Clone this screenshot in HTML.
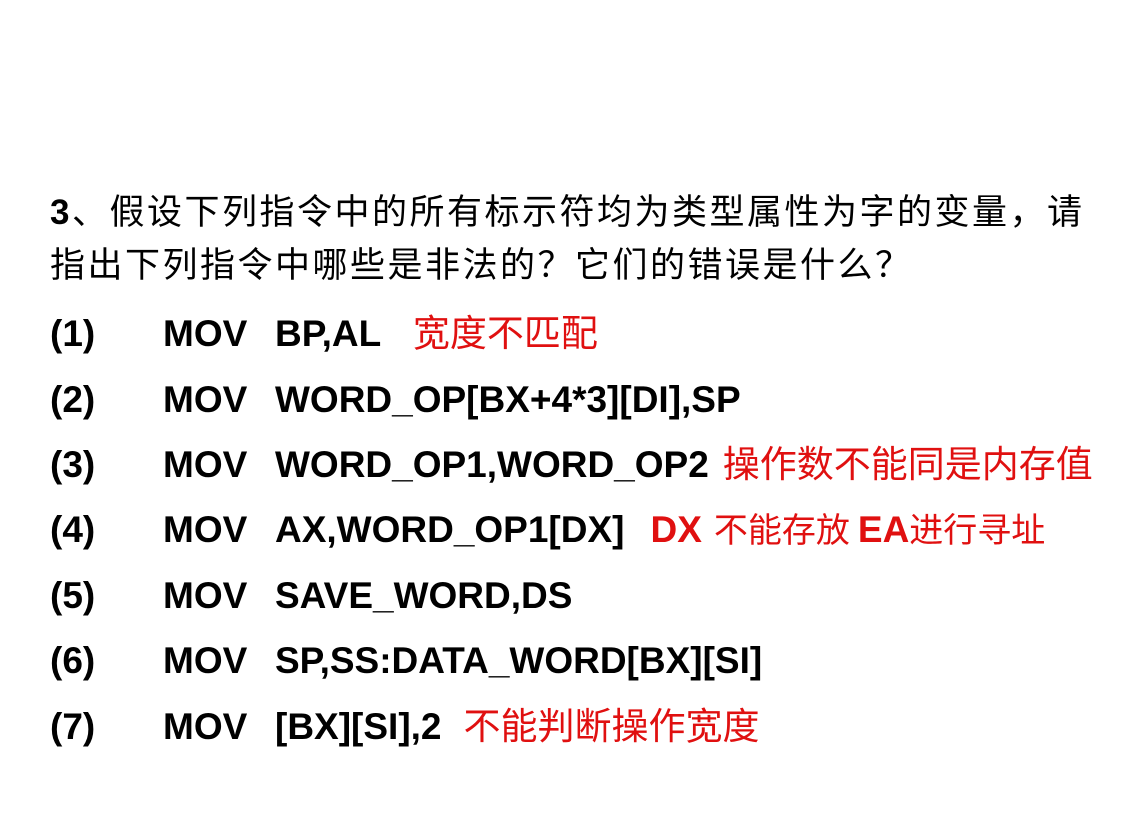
<!DOCTYPE html>
<html><head><meta charset="utf-8"><style>
html,body{margin:0;padding:0;background:#fff;}
body{width:1123px;height:839px;position:relative;overflow:hidden;font-family:"Liberation Sans","Noto Sans CJK SC",sans-serif;color:#000;}
.l{position:absolute;white-space:nowrap;height:44px;line-height:44px;}
.h{font-size:35px;letter-spacing:2.5px;}
.b{font-weight:bold;font-size:37px;}
.r{color:#e01010;font-size:37px;font-weight:normal;}
.rb{color:#e01010;font-weight:bold;font-size:37px;}
</style></head><body>
<div class="l h" style="left:50px;top:191px;"><b>3</b>、假设下列指令中的所有标示符均为类型属性为字的变量，请</div>
<div class="l h" style="left:50px;top:244px;">指出下列指令中哪些是非法的？它们的错误是什么？</div>

<div class="l b" style="left:50px;top:312px;">(1)</div><div class="l b" style="left:163px;top:312px;">MOV</div><div class="l b" style="left:275px;top:312px;">BP,AL <span class="r" style="margin-left:22px;">宽度不匹配</span></div>
<div class="l b" style="left:50px;top:378px;">(2)</div><div class="l b" style="left:163px;top:378px;">MOV</div><div class="l b" style="left:275px;top:378px;">WORD_OP[BX+4*3][DI],SP</div>
<div class="l b" style="left:50px;top:443px;">(3)</div><div class="l b" style="left:163px;top:443px;">MOV</div><div class="l b" style="left:275px;top:443px;">WORD_OP1,WORD_OP2<span class="r" style="margin-left:14px;">操作数不能同是内存值</span></div>
<div class="l b" style="left:50px;top:508px;">(4)</div><div class="l b" style="left:163px;top:508px;">MOV</div><div class="l b" style="left:275px;top:508px;">AX,WORD_OP1[DX]<span class="rb" style="margin-left:26px;">DX</span><span class="r" style="margin-left:12px;font-size:34px;">不能存放</span><span class="rb" style="margin-left:8px;">EA</span><span class="r" style="font-size:34px;">进行寻址</span></div>
<div class="l b" style="left:50px;top:574px;">(5)</div><div class="l b" style="left:163px;top:574px;">MOV</div><div class="l b" style="left:275px;top:574px;">SAVE_WORD,DS</div>
<div class="l b" style="left:50px;top:639px;">(6)</div><div class="l b" style="left:163px;top:639px;">MOV</div><div class="l b" style="left:275px;top:639px;">SP,SS:DATA_WORD[BX][SI]</div>
<div class="l b" style="left:50px;top:705px;">(7)</div><div class="l b" style="left:163px;top:705px;">MOV</div><div class="l b" style="left:275px;top:705px;">[BX][SI],2<span class="r" style="margin-left:22px;">不能判断操作宽度</span></div>
</body></html>
